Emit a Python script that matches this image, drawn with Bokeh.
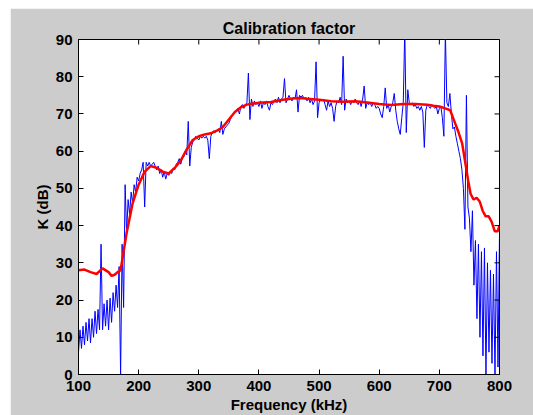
import numpy as np
from bokeh.plotting import figure
from bokeh.models import Range1d, FixedTicker
from bokeh.embed import file_html
from bokeh.resources import INLINE

# Measured (blue) calibration factor, sampled every 2.5 kHz from 100 kHz
blue_k = [
    6, 12, 7, 13, 8, 14, 9, 15, 8.5, 15,
    10, 17, 11, 17.5, 12, 35, 12, 19, 13, 20,
    12, 20.5, 14, 22, 17, 24, 18, 29, 0, 35,
    18, 51, 38, 47, 43, 49, 46, 51, 49, 53,
    52, 54, 55, 57, 45, 57, 56, 57, 56, 56.5,
    57, 56, 55, 56, 54, 55, 53, 54.5, 52.5, 54,
    53.5, 54.5, 54, 55.5, 55, 56.5, 57, 58, 56.5, 58,
    58.5, 60, 59, 68, 56, 61, 62.5, 63, 64, 63.5,
    63, 64, 63.5, 64, 63.5, 64, 63, 58, 64, 65,
    65.5, 65, 65.5, 66, 65, 68, 64.5, 66, 66.5, 67,
    67.5, 68.5, 69.5, 70, 70.5, 71, 71.5, 70, 72, 72.5,
    71.5, 72.5, 73, 81, 68.5, 74, 72, 73.5, 72.5, 73,
    72, 73.5, 71.5, 73, 72.5, 73.5, 72, 71, 73, 72.5,
    73.5, 74, 73, 74.5, 73, 74, 74.5, 79.5, 73, 74,
    75, 74, 73.5, 74.5, 74, 76.5, 70.5, 75, 74.5, 75,
    74, 74.5, 73.5, 74.5, 73, 74, 72.5, 73.5, 84, 69,
    73, 74, 73.5, 74, 72.5, 71, 73.5, 72, 73, 71.5,
    68, 72, 73.5, 73, 74.5, 72.5, 85.5, 71, 74, 73,
    73.5, 72.5, 73.5, 73, 74, 73, 72.5, 73.5, 72, 74,
    77.5, 71.5, 73, 72.5, 73, 72, 73, 72.5, 71.5, 72,
    71.5, 70, 69, 72, 77, 71.5, 72.5, 70.5, 72, 73,
    75.5, 71, 68, 66, 64.5, 69, 73, 93, 65, 76.5,
    73, 72.5, 73, 72, 72.5, 71.5, 72, 71, 72, 70.5,
    61, 71, 72.5, 72, 71.5, 72.5, 72, 71.5, 72, 70,
    71.5, 72, 69, 64, 92, 73, 72, 75.5, 70, 66,
    66.5, 64, 62, 60, 58, 55, 50, 39, 75, 45,
    42, 33, 44, 24, 36, 15, 35, 10, 33, 5,
    34, 0, 30, 6, 28, 3, 27, 0, 33, 2,
    38,
]
blue_freq = [100 + 2.5 * i for i in range(len(blue_k))]

# Smoothed (red) calibration factor
red_freq = [100, 110, 120, 130, 140, 150, 155, 160, 165, 170, 175, 180, 185, 190,
            200, 210, 220, 230, 240, 250, 260, 270, 280, 290, 300, 310, 320, 330,
            340, 350, 360, 370, 380, 390, 400, 420, 440, 460, 470, 480, 500, 520,
            540, 560, 580, 600, 620, 640, 660, 680, 690, 700, 710, 718, 725, 732,
            738, 744, 748, 752, 757, 762, 767, 772, 777, 782, 787, 792, 797, 800]
red_k = [28, 28.2, 27.5, 27, 28.5, 27.5, 26.5, 26.8, 27.5, 28, 33, 38, 42, 46,
         51, 54.5, 56, 55.5, 54.5, 54, 55.5, 57.5, 60.5, 63, 64, 64.5, 64.8, 65.5,
         66.5, 68.5, 70.5, 71.8, 72.5, 72.8, 73, 73.2, 73.8, 74.2, 74.3, 74.1, 73.8, 73.4,
         73.3, 73.4, 73.1, 72.7, 72.4, 72.7, 72.7, 72.5, 72.2, 72, 71.5, 71, 68, 65,
         62, 56, 52, 48.5, 47, 47.5, 46.5, 44, 42.5, 42.5, 41, 38.5, 38.5, 40]

x_ticks = [100, 200, 300, 400, 500, 600, 700, 800]
y_ticks = [0, 10, 20, 30, 40, 50, 60, 70, 80, 90]
x_min, x_max = 100, 800
y_min, y_max = 0, 90

FONT = "Liberation Sans"
GRAY = "#cccccc"

p = figure(width=523, height=407, output_backend="svg", toolbar_location=None,
           x_range=Range1d(x_min, x_max), y_range=Range1d(y_min, y_max),
           min_border_left=68, min_border_right=34, min_border_top=31,
           min_border_bottom=38, title="Calibration factor")
p.margin = (8, 0, 0, 10)
p.background_fill_color = "white"
p.border_fill_color = GRAY
p.outline_line_color = "black"
p.outline_line_width = 1
p.grid.visible = False

p.title.align = "center"
p.title.text_font = FONT
p.title.text_font_size = "16px"
p.title.text_font_style = "bold"
p.title.text_color = "black"
p.title.standoff = 6

p.line(blue_freq, blue_k, line_color="#0000ff", line_width=1)
p.line(red_freq, red_k, line_color="#ff0000", line_width=2.5)

# inward ticks on the top and right frame edges (half of each dash is clipped)
p.scatter(x_ticks, [y_max] * len(x_ticks), marker="dash", angle=np.pi / 2,
          size=10, line_color="black", line_width=1)
p.scatter([x_max] * len(y_ticks), y_ticks, marker="dash",
          size=10, line_color="black", line_width=1)

for ax, ticks in ((p.xaxis[0], x_ticks), (p.yaxis[0], y_ticks)):
    ax.ticker = FixedTicker(ticks=ticks)
    ax.major_tick_in = 5
    ax.major_tick_out = 0
    ax.minor_tick_line_color = None
    ax.axis_line_color = "black"
    ax.major_tick_line_color = "black"
    ax.major_label_text_font = FONT
    ax.major_label_text_font_size = "15px"
    ax.major_label_text_font_style = "bold"
    ax.major_label_text_color = "black"
    ax.major_label_standoff = 6
    ax.axis_label_text_font = FONT
    ax.axis_label_text_font_size = "15px"
    ax.axis_label_text_font_style = "bold"
    ax.axis_label_text_color = "black"
    ax.axis_label_standoff = 2

p.xaxis.axis_label = "Frequency (kHz)"
p.yaxis.axis_label = "K (dB)"

open("out.html", "w").write(file_html(p, INLINE))
